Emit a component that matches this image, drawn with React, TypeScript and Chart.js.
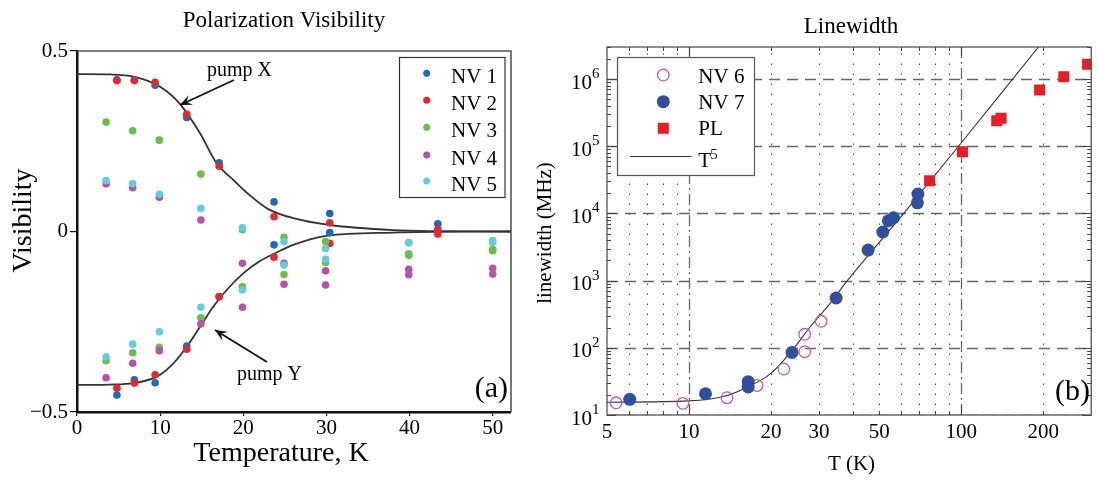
import React, { useEffect, useRef } from 'react';
import { Chart, registerables } from 'chart.js';

Chart.register(...registerables);

const FONT = "'Liberation Serif', 'Times New Roman', Times, serif";

// ---------- Panel (a): Polarization Visibility ----------
const TEMPS_NV12 = [4.8, 6.9, 9.4, 13.2, 17.1, 23.7, 30.4, 43.4];
const TEMPS_NV345 = [3.5, 6.7, 9.9, 14.9, 19.9, 24.9, 29.9, 39.9, 50];

const NV1_PUMPX = [0.42, 0.42, 0.405, 0.316, 0.19, 0.082, 0.05, 0.021];
const NV1_PUMPY = [-0.453, -0.411, -0.419, -0.317, -0.18, -0.037, -0.003, 0.0];
const NV2_PUMPX = [0.418, 0.418, 0.413, 0.325, 0.181, 0.041, 0.024, 0.006];
const NV2_PUMPY = [-0.434, -0.42, -0.397, -0.326, -0.181, -0.071, -0.033, -0.007];
const NV3_PUMPX = [0.303, 0.279, 0.253, 0.159, 0.005, -0.016, -0.028, -0.062, -0.049];
const NV3_PUMPY = [-0.358, -0.336, -0.321, -0.239, -0.153, -0.119, -0.086, -0.066, -0.053];
const NV4_PUMPX = [0.132, 0.121, 0.095, 0.032, -0.088, -0.088, -0.109, -0.105, -0.102];
const NV4_PUMPY = [-0.405, -0.365, -0.33, -0.256, -0.21, -0.146, -0.148, -0.12, -0.118];
const NV5_PUMPX = [0.141, 0.133, 0.103, 0.064, 0.0105, -0.028, -0.047, -0.031, -0.025];
const NV5_PUMPY = [-0.347, -0.312, -0.278, -0.21, -0.162, -0.093, -0.077, -0.031, -0.03];

const FIT_X_T = [0, 4, 6.8, 10, 12.4, 14.8, 16.8, 18.8, 20.8, 23, 26, 30.4, 38, 43.4, 52.2];
const FIT_X_V = [0.436, 0.435, 0.429, 0.401, 0.353, 0.272, 0.189, 0.143, 0.1, 0.062, 0.037, 0.018, 0.004, 0.001, 0];
const FIT_Y_T = [0, 4, 6.8, 9.6, 11.6, 13.2, 14.8, 16.4, 18, 20, 22, 24, 26, 30, 38, 52.2];
const FIT_Y_V = [-0.425, -0.424, -0.42, -0.402, -0.365, -0.319, -0.264, -0.208, -0.162, -0.116, -0.082, -0.058, -0.037, -0.012, -0.003, 0];

const X_TICKS_A = [0, 10, 20, 30, 40, 50];
const Y_TICKS_A = [-0.5, 0, 0.5];

// ---------- Panel (b): Linewidth ----------
const NV6_T = [5.4, 9.5, 13.8, 17.8, 22.3, 26.6, 26.6, 30.6];
const NV6_W = [15.2, 14.9, 18.1, 27.5, 48.4, 159, 87.5, 248];
const NV7_T = [6.06, 11.5, 16.5, 16.5, 23.9, 34.7, 45.5, 51.5, 54.0, 56.4, 69.0, 69.3];
const NV7_W = [17.1, 20.7, 31.3, 26.1, 85.1, 551, 2850, 5290, 7790, 8630, 14400, 19400];
const PL_T = [76.5, 101, 135, 140, 194, 238, 291];
const PL_W = [30700, 82800, 240000, 262000, 686000, 1080000, 1660000];
const T5_T = [5, 10, 13.6, 16.5, 20, 23.7, 27.9, 33, 37.9, 60, 97.7, 192];
const T5_W = [15.5, 16.2, 19.2, 26.4, 41.7, 87.5, 206, 459, 964, 8900, 100000, 3000000];

const X_TICKS_B = [5, 10, 20, 30, 50, 100, 200];
const X_MAJOR_GRID_B = [10, 100];
const X_MINOR_GRID_B = [6, 7, 8, 9, 20, 30, 40, 50, 60, 70, 80, 90, 200];
const Y_DECADES_B = [10, 100, 1000, 10000, 100000, 1000000];

const C_NV1 = '#1a6bbf';
const C_NV2 = '#e8262d';
const C_NV3 = '#6bbf44';
const C_NV4 = '#b652ae';
const C_NV5 = '#62cde0';
const C_NV6 = '#c65aa8';
const C_NV7 = '#30509f';
const C_PL = '#ec1c24';
const C_FIT = '#333333';

const pts = (xs: number[], ys: number[]) => xs.map((x, i) => ({ x, y: ys[i] }));

function drawArrow(ctx: CanvasRenderingContext2D, x1: number, y1: number, x2: number, y2: number) {
  ctx.save();
  ctx.strokeStyle = '#111';
  ctx.lineWidth = 1.8;
  ctx.beginPath();
  ctx.moveTo(x1, y1);
  ctx.lineTo(x2, y2);
  ctx.stroke();
  const a = Math.atan2(y2 - y1, x2 - x1);
  const L = 13;
  const w = 0.42;
  ctx.fillStyle = '#111';
  ctx.beginPath();
  ctx.moveTo(x2, y2);
  ctx.lineTo(x2 - L * Math.cos(a - w), y2 - L * Math.sin(a - w));
  ctx.lineTo(x2 - 0.55 * L * Math.cos(a), y2 - 0.55 * L * Math.sin(a));
  ctx.lineTo(x2 - L * Math.cos(a + w), y2 - L * Math.sin(a + w));
  ctx.closePath();
  ctx.fill();
  ctx.restore();
}

const leftDecor = {
  id: 'leftDecor',
  afterDatasetsDraw(chart: any) {
    const { ctx, chartArea: a } = chart;
    ctx.save();
    ctx.strokeStyle = '#555';
    ctx.lineWidth = 1.6;
    ctx.beginPath();
    ctx.moveTo(a.left, a.top);
    ctx.lineTo(a.right, a.top);
    ctx.lineTo(a.right, a.bottom);
    ctx.stroke();
    ctx.restore();
  },
  afterDraw(chart: any) {
    const ctx: CanvasRenderingContext2D = chart.ctx;
    ctx.save();
    ctx.fillStyle = '#000';
    ctx.textBaseline = 'alphabetic';
    ctx.textAlign = 'center';
    ctx.font = `23px ${FONT}`;
    ctx.fillText('Polarization Visibility', 284, 27);
    ctx.font = `28px ${FONT}`;
    ctx.fillText('Temperature, K', 281, 461);
    ctx.save();
    ctx.translate(31, 220.5);
    ctx.rotate(-Math.PI / 2);
    ctx.fillText('Visibility', 0, 0);
    ctx.restore();

    // legend
    const bx = 399.5, by = 57.5, bw = 105.5, bh = 140;
    ctx.fillStyle = '#fff';
    ctx.fillRect(bx, by, bw, bh);
    ctx.strokeStyle = '#333';
    ctx.lineWidth = 1.2;
    ctx.strokeRect(bx, by, bw, bh);
    const rows = [73.3, 100.3, 127.3, 155, 181];
    const ds = chart.data.datasets.filter((d: any) => String(d.label).startsWith('NV'));
    ds.forEach((d: any, i: number) => {
      ctx.fillStyle = d.backgroundColor;
      ctx.beginPath();
      ctx.arc(426.7, rows[i], 3.5, 0, Math.PI * 2);
      ctx.fill();
      ctx.fillStyle = '#000';
      ctx.textAlign = 'left';
      ctx.font = `21px ${FONT}`;
      ctx.fillText(d.label, 451, rows[i] + 9.5);
    });

    // annotations
    ctx.fillStyle = '#000';
    ctx.textAlign = 'left';
    ctx.font = `20px ${FONT}`;
    ctx.fillText('pump X', 207, 75.5);
    ctx.fillText('pump Y', 237, 379.5);
    drawArrow(ctx, 234, 80, 180, 105);
    drawArrow(ctx, 267, 362, 215, 330);
    ctx.textAlign = 'right';
    ctx.font = `30px ${FONT}`;
    ctx.fillText('(a)', 508, 397);
    ctx.restore();
  },
};

const SPLIT = 520;
const R_OFF = SPLIT;

const rightDecor = {
  id: 'rightDecor',
  beforeDatasetsDraw(chart: any) {
    const { ctx, chartArea: a, scales } = chart;
    const xs = scales.x, ys = scales.y;
    ctx.save();
    ctx.beginPath();
    ctx.rect(a.left, a.top, a.right - a.left, a.bottom - a.top);
    ctx.clip();
    // minor vertical dotted
    ctx.strokeStyle = '#555';
    ctx.lineWidth = 1.1;
    ctx.setLineDash([1.4, 8.6]);
    for (const v of X_MINOR_GRID_B) {
      const px = Math.round(xs.getPixelForValue(v)) + 0.5;
      ctx.beginPath();
      ctx.moveTo(px, a.bottom);
      ctx.lineTo(px, a.top);
      ctx.stroke();
    }
    // major vertical dash-dot
    ctx.strokeStyle = '#666';
    ctx.lineWidth = 1.3;
    ctx.setLineDash([11, 4, 2, 4]);
    for (const v of X_MAJOR_GRID_B) {
      const px = Math.round(xs.getPixelForValue(v)) + 0.5;
      ctx.beginPath();
      ctx.moveTo(px, a.bottom);
      ctx.lineTo(px, a.top);
      ctx.stroke();
    }
    // horizontal dashed
    ctx.setLineDash([11, 7]);
    for (const v of Y_DECADES_B) {
      const py = Math.round(ys.getPixelForValue(v)) + 0.5;
      ctx.beginPath();
      ctx.moveTo(a.left, py);
      ctx.lineTo(a.right, py);
      ctx.stroke();
    }
    ctx.restore();
  },
  afterDatasetsDraw(chart: any) {
    const { ctx, chartArea: a, scales } = chart;
    const xs = scales.x, ys = scales.y;
    ctx.save();
    ctx.strokeStyle = '#444';
    ctx.lineWidth = 1.2;
    ctx.strokeRect(a.left, a.top, a.right - a.left, a.bottom - a.top);
    ctx.lineWidth = 1;
    // y ticks inward (both sides)
    const yMax = ys.max;
    for (const d of Y_DECADES_B) {
      for (let m = 1; m <= 9; m++) {
        const v = m * d;
        if (v > yMax * 1.0001) continue;
        const py = Math.round(ys.getPixelForValue(v)) + 0.5;
        const len = m === 1 ? 9 : 4;
        ctx.beginPath();
        ctx.moveTo(a.left, py);
        ctx.lineTo(a.left + len, py);
        ctx.moveTo(a.right, py);
        ctx.lineTo(a.right - len, py);
        ctx.stroke();
      }
    }
    // x ticks inward (top and bottom)
    const xt = [...X_MAJOR_GRID_B.map((v) => [v, 9]), ...X_MINOR_GRID_B.map((v) => [v, 4])];
    for (const [v, len] of xt) {
      const px = Math.round(xs.getPixelForValue(v)) + 0.5;
      ctx.beginPath();
      ctx.moveTo(px, a.bottom);
      ctx.lineTo(px, a.bottom - len);
      ctx.moveTo(px, a.top);
      ctx.lineTo(px, a.top + len);
      ctx.stroke();
    }
    ctx.restore();
  },
  afterDraw(chart: any) {
    const ctx: CanvasRenderingContext2D = chart.ctx;
    const ys = chart.scales.y;
    ctx.save();
    ctx.fillStyle = '#000';
    ctx.textBaseline = 'alphabetic';
    // y tick labels with superscripts
    for (const d of Y_DECADES_B) {
      const py = ys.getPixelForValue(d);
      const exp = String(Math.round(Math.log10(d)));
      ctx.font = `15px ${FONT}`;
      const ew = ctx.measureText(exp).width;
      const rx = 599.5 - R_OFF;
      ctx.textAlign = 'left';
      ctx.fillText(exp, rx - ew, py - 1);
      ctx.font = `21px ${FONT}`;
      ctx.textAlign = 'right';
      ctx.fillText('10', rx - ew, py + 9.5);
    }
    // titles
    ctx.textAlign = 'center';
    ctx.font = `23px ${FONT}`;
    ctx.fillText('Linewidth', 851 - R_OFF, 33);
    ctx.font = `21px ${FONT}`;
    ctx.fillText('T (K)', 851.5 - R_OFF, 470);
    ctx.save();
    ctx.translate(551 - R_OFF, 233);
    ctx.rotate(-Math.PI / 2);
    ctx.fillText('linewidth (MHz)', 0, 0);
    ctx.restore();

    // legend
    const bx = 617.5 - R_OFF, by = 57.5, bw = 137, bh = 118;
    ctx.fillStyle = '#fff';
    ctx.fillRect(bx, by, bw, bh);
    ctx.strokeStyle = '#555';
    ctx.lineWidth = 1.2;
    ctx.strokeRect(bx, by, bw, bh);
    const mx = 663.3 - R_OFF;
    const tx = 698.3 - R_OFF;
    // NV 6
    ctx.strokeStyle = C_NV6;
    ctx.lineWidth = 1.3;
    ctx.beginPath();
    ctx.arc(mx, 75, 5.8, 0, Math.PI * 2);
    ctx.stroke();
    // NV 7
    ctx.fillStyle = C_NV7;
    ctx.beginPath();
    ctx.arc(mx, 101.7, 6.5, 0, Math.PI * 2);
    ctx.fill();
    // PL
    ctx.fillStyle = C_PL;
    ctx.fillRect(mx - 5.5, 128.3 - 5.5, 11, 11);
    // T^5 line
    ctx.strokeStyle = C_FIT;
    ctx.lineWidth = 1;
    ctx.beginPath();
    ctx.moveTo(630 - R_OFF, 156.5);
    ctx.lineTo(691.7 - R_OFF, 156.5);
    ctx.stroke();
    ctx.fillStyle = '#000';
    ctx.textAlign = 'left';
    ctx.font = `21px ${FONT}`;
    ctx.fillText('NV 6', tx, 83.3);
    ctx.fillText('NV 7', tx, 109);
    ctx.fillText('PL', tx, 135);
    ctx.fillText('T', tx, 166.5);
    const tw = ctx.measureText('T').width;
    ctx.font = `15px ${FONT}`;
    ctx.fillText('5', tx + tw - 1, 158.5);

    ctx.textAlign = 'right';
    ctx.font = `30px ${FONT}`;
    ctx.fillText('(b)', 1090 - R_OFF, 400);
    ctx.restore();
  },
};

function leftConfig(): any {
  const nv = (label: string, color: string, px: number[], py: number[], ts: number[], order: number) => ({
    label,
    data: [...pts(ts, px), ...pts(ts, py)],
    backgroundColor: color,
    borderColor: color,
    borderWidth: 0,
    pointRadius: 3.8,
    pointStyle: 'circle',
    showLine: false,
    order,
  });
  const fit = (label: string, ts: number[], vs: number[]) => ({
    label,
    data: pts(ts, vs),
    showLine: true,
    borderColor: C_FIT,
    borderWidth: 1.8,
    pointRadius: 0,
    cubicInterpolationMode: 'monotone',
    order: 10,
  });
  return {
    type: 'scatter',
    data: {
      datasets: [
        nv('NV 1', C_NV1, NV1_PUMPX, NV1_PUMPY, TEMPS_NV12, 5),
        nv('NV 2', C_NV2, NV2_PUMPX, NV2_PUMPY, TEMPS_NV12, 4),
        nv('NV 3', C_NV3, NV3_PUMPX, NV3_PUMPY, TEMPS_NV345, 3),
        nv('NV 4', C_NV4, NV4_PUMPX, NV4_PUMPY, TEMPS_NV345, 2),
        nv('NV 5', C_NV5, NV5_PUMPX, NV5_PUMPY, TEMPS_NV345, 1),
        fit('pump X fit', FIT_X_T, FIT_X_V),
        fit('pump Y fit', FIT_Y_T, FIT_Y_V),
      ],
    },
    options: {
      animation: false,
      responsive: false,
      maintainAspectRatio: false,
      devicePixelRatio: 1,
      events: [],
      layout: { padding: { left: 0, top: 51, right: SPLIT - 511, bottom: 0 } },
      plugins: { legend: { display: false }, title: { display: false }, tooltip: { enabled: false } },
      scales: {
        x: {
          type: 'linear',
          min: 0,
          max: 52.2,
          afterBuildTicks: (s: any) => {
            s.ticks = X_TICKS_A.map((v) => ({ value: v }));
          },
          afterFit: (s: any) => {
            s.height = 68;
          },
          ticks: {
            font: { family: FONT, size: 21 },
            color: '#000',
            padding: 0,
            autoSkip: false,
            maxRotation: 0,
            callback: (v: number) => String(v),
          },
          grid: { display: true, drawOnChartArea: false, drawTicks: true, tickLength: 4, color: '#111', lineWidth: 1.2 },
          border: { display: true, color: '#111', width: 2.5 },
        },
        y: {
          type: 'linear',
          min: -0.5,
          max: 0.5,
          afterBuildTicks: (s: any) => {
            s.ticks = Y_TICKS_A.map((v) => ({ value: v }));
          },
          afterFit: (s: any) => {
            s.width = 77;
          },
          ticks: {
            font: { family: FONT, size: 21 },
            color: '#000',
            padding: 2,
            autoSkip: false,
            callback: (v: number) => (v < 0 ? '\u2212' + Math.abs(v) : String(v)),
          },
          grid: { display: true, drawOnChartArea: false, drawTicks: true, tickLength: 7, color: '#111', lineWidth: 1.2 },
          border: { display: true, color: '#111', width: 2.5 },
        },
      },
    },
    plugins: [leftDecor],
  };
}

function rightConfig(): any {
  return {
    type: 'scatter',
    data: {
      datasets: [
        {
          label: 'NV 6',
          data: pts(NV6_T, NV6_W),
          pointStyle: 'circle',
          pointRadius: 5.8,
          borderWidth: 1.3,
          borderColor: C_NV6,
          backgroundColor: 'rgba(0,0,0,0)',
          showLine: false,
          order: 2,
        },
        {
          label: 'NV 7',
          data: pts(NV7_T, NV7_W),
          pointStyle: 'circle',
          pointRadius: 6.5,
          borderWidth: 0,
          backgroundColor: C_NV7,
          borderColor: C_NV7,
          showLine: false,
          order: 1,
        },
        {
          label: 'PL',
          data: pts(PL_T, PL_W),
          pointStyle: 'rect',
          pointRadius: 7.8,
          borderWidth: 0,
          backgroundColor: C_PL,
          borderColor: C_PL,
          showLine: false,
          order: 3,
        },
        {
          label: 'T^5',
          data: pts(T5_T, T5_W),
          showLine: true,
          borderColor: C_FIT,
          borderWidth: 1.1,
          pointRadius: 0,
          cubicInterpolationMode: 'monotone',
          order: 4,
        },
      ],
    },
    options: {
      animation: false,
      responsive: false,
      maintainAspectRatio: false,
      devicePixelRatio: 1,
      events: [],
      layout: { padding: { left: 0, top: 47, right: 1, bottom: 0 } },
      plugins: { legend: { display: false }, title: { display: false }, tooltip: { enabled: false } },
      scales: {
        x: {
          type: 'logarithmic',
          min: 5,
          max: 300,
          afterBuildTicks: (s: any) => {
            s.ticks = X_TICKS_B.map((v) => ({ value: v }));
          },
          afterFit: (s: any) => {
            s.height = 65;
          },
          ticks: {
            font: { family: FONT, size: 21 },
            color: '#000',
            padding: 4.5,
            autoSkip: false,
            maxRotation: 0,
            callback: (v: number) => String(v),
          },
          grid: { display: false, drawTicks: false },
          border: { display: false },
        },
        y: {
          type: 'logarithmic',
          min: 10,
          max: 3000000,
          afterFit: (s: any) => {
            s.width = 607 - SPLIT;
          },
          ticks: { display: false },
          grid: { display: false, drawTicks: false },
          border: { display: false },
        },
      },
    },
    plugins: [rightDecor],
  };
}

export default function App() {
  const leftRef = useRef<HTMLCanvasElement>(null);
  const rightRef = useRef<HTMLCanvasElement>(null);
  useEffect(() => {
    const c1 = new Chart(leftRef.current as HTMLCanvasElement, leftConfig());
    const c2 = new Chart(rightRef.current as HTMLCanvasElement, rightConfig());
    return () => {
      c1.destroy();
      c2.destroy();
    };
  }, []);
  return (
    <div style={{ position: 'fixed', left: 0, top: 0, width: 1099, height: 480, background: '#fff', overflow: 'hidden' }}>
      <canvas
        ref={leftRef}
        width={SPLIT}
        height={480}
        style={{ position: 'absolute', left: 0, top: 0, width: SPLIT, height: 480, display: 'block' }}
      />
      <canvas
        ref={rightRef}
        width={1099 - SPLIT}
        height={480}
        style={{ position: 'absolute', left: SPLIT, top: 0, width: 1099 - SPLIT, height: 480, display: 'block' }}
      />
    </div>
  );
}
